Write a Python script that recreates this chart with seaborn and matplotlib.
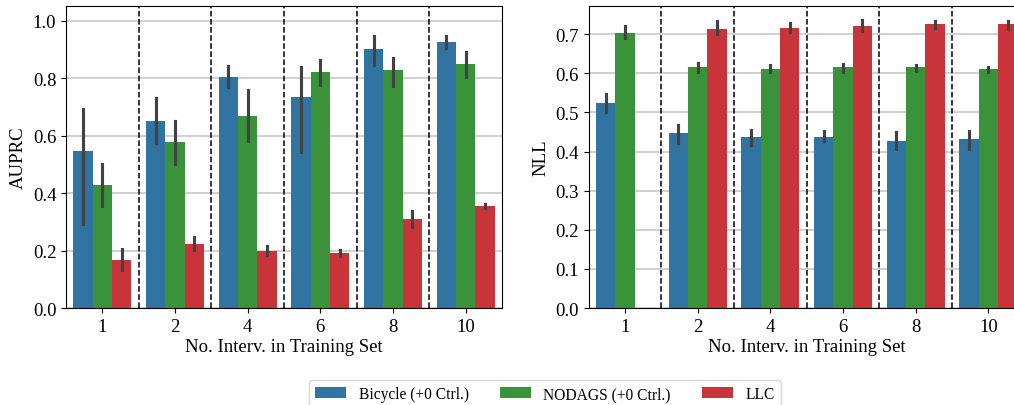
import matplotlib
matplotlib.use("Agg")
import matplotlib.pyplot as plt
import numpy as np
import pandas as pd
import seaborn as sns

N_INTERV = ["1", "2", "4", "6", "8", "10"]
METHODS = ["Bicycle (+0 Ctrl.)", "NODAGS (+0 Ctrl.)", "LLC"]
COLORS = ["#3274a1", "#3a923a", "#c9343a"]

# AUPRC: bar height, lower / upper end of the error bar
auprc_bicycle = [0.548, 0.652, 0.805, 0.735, 0.903, 0.927]
auprc_bicycle_lo = [0.291, 0.575, 0.769, 0.545, 0.845, 0.907]
auprc_bicycle_hi = [0.694, 0.731, 0.842, 0.839, 0.949, 0.949]
auprc_nodags = [0.429, 0.579, 0.669, 0.822, 0.829, 0.850]
auprc_nodags_lo = [0.354, 0.501, 0.580, 0.778, 0.775, 0.806]
auprc_nodags_hi = [0.503, 0.652, 0.761, 0.865, 0.871, 0.891]
auprc_llc = [0.168, 0.224, 0.200, 0.193, 0.311, 0.356]
auprc_llc_lo = [0.131, 0.201, 0.183, 0.180, 0.281, 0.348]
auprc_llc_hi = [0.206, 0.246, 0.215, 0.203, 0.339, 0.361]

# NLL (no LLC result for a single intervention)
nll_bicycle = [0.523, 0.448, 0.436, 0.438, 0.428, 0.431]
nll_bicycle_lo = [0.500, 0.422, 0.417, 0.428, 0.406, 0.406]
nll_bicycle_hi = [0.546, 0.468, 0.455, 0.452, 0.450, 0.452]
nll_nodags = [0.704, 0.615, 0.612, 0.615, 0.615, 0.610]
nll_nodags_lo = [0.691, 0.602, 0.602, 0.604, 0.607, 0.602]
nll_nodags_hi = [0.720, 0.626, 0.622, 0.624, 0.621, 0.617]
nll_llc = [np.nan, 0.714, 0.717, 0.722, 0.725, 0.725]
nll_llc_lo = [np.nan, 0.700, 0.705, 0.709, 0.715, 0.714]
nll_llc_hi = [np.nan, 0.733, 0.729, 0.737, 0.734, 0.734]


def long_form(series):
    # three rows per bar (lo, mean, hi): the median gives the bar, min/max the error bar
    rows = []
    for method, (mean, lo, hi) in zip(METHODS, series):
        for x, m, l, h in zip(N_INTERV, mean, lo, hi):
            if np.isnan(m):
                continue
            for v in (l, m, h):
                rows.append({"n_interv": x, "method": method, "value": v})
    return pd.DataFrame(rows)


auprc_df = long_form([
    (auprc_bicycle, auprc_bicycle_lo, auprc_bicycle_hi),
    (auprc_nodags, auprc_nodags_lo, auprc_nodags_hi),
    (auprc_llc, auprc_llc_lo, auprc_llc_hi),
])
nll_df = long_form([
    (nll_bicycle, nll_bicycle_lo, nll_bicycle_hi),
    (nll_nodags, nll_nodags_lo, nll_nodags_hi),
    (nll_llc, nll_llc_lo, nll_llc_hi),
])

plt.rcParams["font.family"] = ["Liberation Serif", "DejaVu Serif"]
plt.rcParams["font.size"] = 13.5

fig = plt.figure(figsize=(10.14, 4.06), dpi=100)
ax_l = fig.add_axes([0.0651, 0.2389, 0.4300, 0.7439])
# right panel runs past the right edge, as in the (cropped) original
ax_r = fig.add_axes([0.5806, 0.2389, 0.4300, 0.7439])

for ax, df, ylabel, ymax in [
    (ax_l, auprc_df, "AUPRC", 1.052),
    (ax_r, nll_df, "NLL", 0.772),
]:
    sns.barplot(
        data=df, x="n_interv", y="value", hue="method",
        order=N_INTERV, hue_order=METHODS, palette=COLORS, saturation=1,
        estimator="median", errorbar=lambda v: (v.min(), v.max()),
        ax=ax, zorder=2,
    )
    ax.set_axisbelow(True)
    ax.grid(axis="y", color="#c4c4c4", linewidth=1.1)
    for b in np.arange(0.5, len(N_INTERV) - 1, 1.0):
        ax.axvline(b, color="black", linestyle="--", linewidth=1.1, zorder=3)
    ax.set_xlim(-0.5, len(N_INTERV) - 0.5)
    ax.set_ylim(0, ymax)
    ax.set_xlabel("No. Interv. in Training Set", labelpad=2)
    ax.set_ylabel(ylabel)

ax_l.set_yticks(np.arange(0, 1.01, 0.2))
ax_r.set_yticks(np.arange(0, 0.71, 0.1))

handles, labels = ax_l.get_legend_handles_labels()
ax_l.get_legend().remove()
ax_r.get_legend().remove()
fig.legend(handles, labels, loc="upper center", bbox_to_anchor=(0.5375, 0.062),
           ncol=3, frameon=True, fontsize=11.2, borderaxespad=0)

fig.savefig("out.png", dpi=100)
